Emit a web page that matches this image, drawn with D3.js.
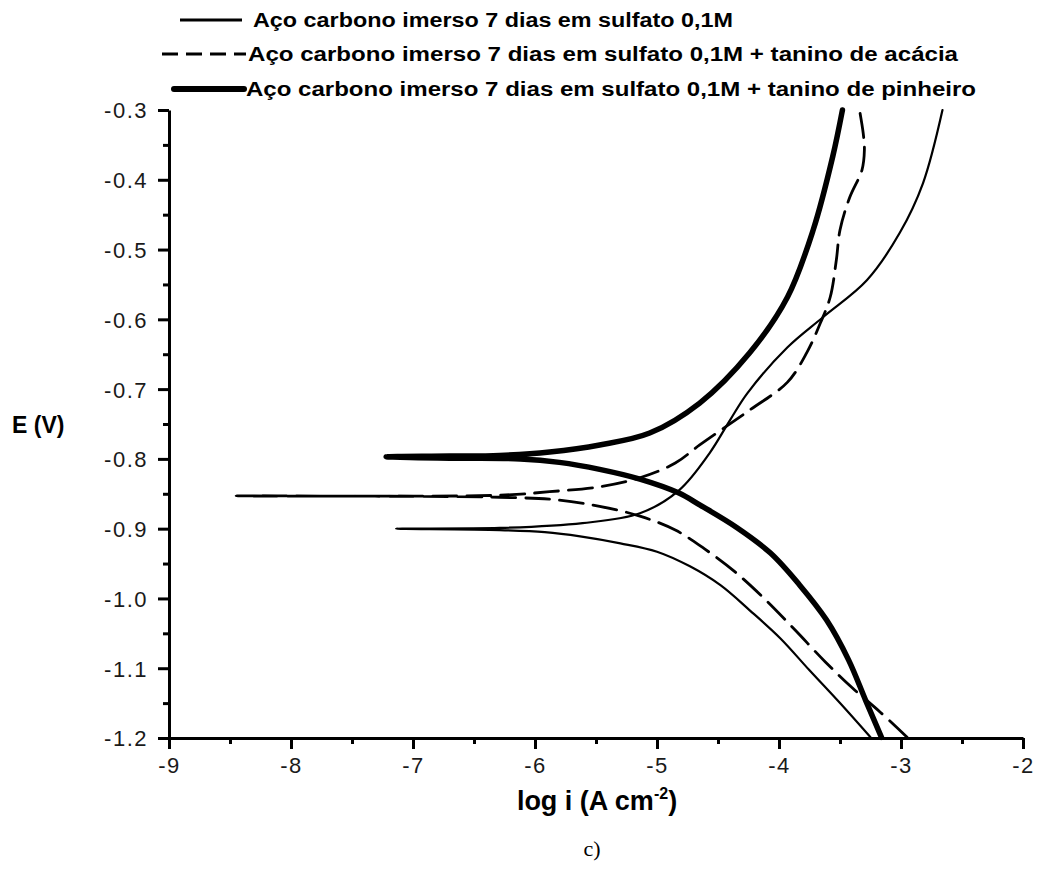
<!DOCTYPE html>
<html lang="pt">
<head>
<meta charset="utf-8">
<title>Curvas de polarização</title>
<script src="https://cdn.jsdelivr.net/npm/d3@7"></script>
<style>
  body { margin: 0; background: #fff; }
  text { font-family: "Liberation Sans", Arial, sans-serif; }
</style>
</head>
<body>
<script>
// each curve: cathodic end -> tip (Ecorr) -> anodic end, [log i, E]
var sulfato = [
  [-3.25, -1.199], [-3.50, -1.150], [-3.75, -1.103], [-3.99, -1.057], [-4.24, -1.017],
  [-4.48, -0.981], [-4.73, -0.954], [-5.00, -0.933], [-5.30, -0.921], [-5.63, -0.911],
  [-5.92, -0.905], [-6.29, -0.902], [-7.14, -0.900],
  [-6.29, -0.899], [-5.61, -0.892], [-5.14, -0.878], [-4.82, -0.845], [-4.57, -0.792],
  [-4.40, -0.744], [-4.26, -0.706], [-3.93, -0.640], [-3.64, -0.597], [-3.28, -0.544],
  [-3.01, -0.476], [-2.82, -0.405], [-2.66, -0.300]
];
var acacia = [
  [-2.95, -1.199], [-3.17, -1.163], [-3.40, -1.128], [-3.62, -1.091], [-3.87, -1.045],
  [-4.11, -1.002], [-4.36, -0.962], [-4.61, -0.929], [-4.85, -0.902], [-5.14, -0.882],
  [-5.47, -0.868], [-5.80, -0.859], [-6.29, -0.855], [-8.45, -0.853],
  [-6.29, -0.852], [-5.88, -0.847], [-5.47, -0.840], [-5.14, -0.827], [-4.85, -0.806],
  [-4.65, -0.780], [-4.24, -0.730], [-3.93, -0.690], [-3.77, -0.647], [-3.66, -0.605],
  [-3.58, -0.568], [-3.53, -0.515], [-3.50, -0.472], [-3.42, -0.425], [-3.32, -0.386],
  [-3.30, -0.357], [-3.31, -0.333], [-3.34, -0.300]
];
var pinheiro = [
  [-3.16, -1.199], [-3.29, -1.146], [-3.43, -1.088], [-3.61, -1.031], [-3.83, -0.981],
  [-4.07, -0.935], [-4.35, -0.898], [-4.65, -0.866], [-4.82, -0.849], [-5.14, -0.829],
  [-5.47, -0.815], [-5.80, -0.805], [-6.12, -0.800], [-6.70, -0.799], [-7.22, -0.797],
  [-6.70, -0.796], [-6.29, -0.795], [-5.88, -0.790], [-5.47, -0.780], [-5.06, -0.763],
  [-4.65, -0.720], [-4.24, -0.648], [-3.93, -0.568], [-3.72, -0.472], [-3.56, -0.367],
  [-3.48, -0.300]
];
var seriesNames = [
  "Aço carbono imerso 7 dias em sulfato 0,1M",
  "Aço carbono imerso 7 dias em sulfato 0,1M + tanino de acácia",
  "Aço carbono imerso 7 dias em sulfato 0,1M + tanino de pinheiro"
];
var xTicks = [-9, -8, -7, -6, -5, -4, -3, -2];
var yTicks = [-1.2, -1.1, -1.0, -0.9, -0.8, -0.7, -0.6, -0.5, -0.4, -0.3];

var W = 1039, H = 875;
var mLeft = 169, mRight = 1023, mTop = 110, mBottom = 738;

var svg = d3.select("body").append("svg")
  .attr("width", W).attr("height", H);

var x = d3.scaleLinear().domain([-9, -2]).range([mLeft, mRight]);
var y = d3.scaleLinear().domain([-1.2, -0.3]).range([mBottom, mTop]);

var styles = [
  { w: 2.2, dash: null },
  { w: 2.8, dash: "24,10" },
  { w: 5.5, dash: null }
];

var line = d3.line()
  .x(function(d) { return x(d[0]); })
  .y(function(d) { return y(d[1]); })
  .curve(d3.curveCatmullRom.alpha(0.5));

var plot = svg.append("g");
[sulfato, acacia, pinheiro].forEach(function(s, i) {
  plot.append("path")
    .attr("d", line(s))
    .attr("fill", "none")
    .attr("stroke", "#000")
    .attr("stroke-width", styles[i].w)
    .attr("stroke-linecap", "round")
    .attr("stroke-linejoin", "round")
    .attr("stroke-dasharray", styles[i].dash);
});

// minor ticks
var xMinor = xTicks.slice(0, -1).map(function(d) { return d + 0.5; });
var yMinor = yTicks.slice(0, -1).map(function(d) { return d + 0.05; });

svg.append("g")
  .attr("transform", "translate(0," + mBottom + ")")
  .call(d3.axisBottom(x).tickValues(xMinor).tickSize(6).tickFormat(""))
  .call(function(g) { g.select(".domain").remove(); g.selectAll("line").attr("stroke-width", 3); });
svg.append("g")
  .attr("transform", "translate(" + mLeft + ",0)")
  .call(d3.axisLeft(y).tickValues(yMinor).tickSize(6).tickFormat(""))
  .call(function(g) { g.select(".domain").remove(); g.selectAll("line").attr("stroke-width", 3); });

var xAxis = svg.append("g")
  .attr("transform", "translate(0," + mBottom + ")")
  .call(d3.axisBottom(x).tickValues(xTicks).tickSize(11).tickSizeOuter(0).tickPadding(8)
    .tickFormat(function(d) { return String(d); }));
var yAxis = svg.append("g")
  .attr("transform", "translate(" + mLeft + ",0)")
  .call(d3.axisLeft(y).tickValues(yTicks).tickSize(11).tickSizeOuter(0).tickPadding(10)
    .tickFormat(function(d) { return d.toFixed(1); }));

[xAxis, yAxis].forEach(function(g) {
  g.select(".domain").attr("stroke-width", 3);
  g.selectAll(".tick line").attr("stroke-width", 3);
  g.selectAll(".tick text")
    .attr("font-size", 22)
    .attr("fill", "#1a1a1a")
    .attr("letter-spacing", "1.5px")
    .style("font-family", "Liberation Sans, Arial, sans-serif");
});
yAxis.selectAll(".tick text").attr("dy", "0.36em");

// axis titles
svg.append("text")
  .attr("x", 12).attr("y", 433)
  .attr("font-size", 23).attr("font-weight", "bold")
  .text("E (V)");

var xt = svg.append("text")
  .attr("x", 597).attr("y", 810)
  .attr("text-anchor", "middle")
  .attr("font-size", 27).attr("font-weight", "bold");
xt.append("tspan").text("log i (A cm");
xt.append("tspan").attr("font-size", 16).attr("dy", -11).text("-2");
xt.append("tspan").attr("dy", 11).text(")");

svg.append("text")
  .attr("x", 592).attr("y", 856)
  .attr("text-anchor", "middle")
  .attr("font-size", 22)
  .style("font-family", "Liberation Serif, Times New Roman, serif")
  .text("c)");

// legend
var legY = [20, 54, 89];
var legLine = [[180, 242], [162, 246], [174, 244]];
var legText = [253, 248, 246];
var legLen = [480, 710, 730];
seriesNames.forEach(function(name, i) {
  svg.append("line")
    .attr("x1", legLine[i][0]).attr("x2", legLine[i][1])
    .attr("y1", legY[i]).attr("y2", legY[i])
    .attr("stroke", "#000")
    .attr("stroke-width", i === 2 ? 6 : 2.8)
    .attr("stroke-linecap", i === 2 ? "round" : "butt")
    .attr("stroke-dasharray", i === 1 ? "16,8" : null);
  svg.append("text")
    .attr("x", legText[i]).attr("y", legY[i] + 7)
    .attr("font-size", 20).attr("font-weight", "bold")
    .attr("textLength", legLen[i])
    .attr("lengthAdjust", "spacingAndGlyphs")
    .text(name);
});
</script>
</body>
</html>
